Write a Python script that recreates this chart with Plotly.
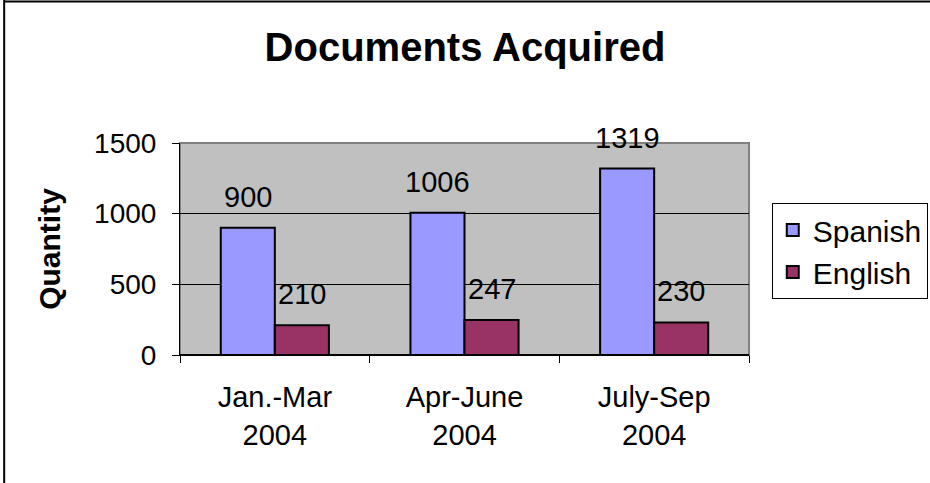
import plotly.graph_objects as go

categories = ["Jan.-Mar<br>2004", "Apr-June<br>2004", "July-Sep<br>2004"]
spanish = [900, 1006, 1319]
english = [210, 247, 230]
y_ticks = [0, 500, 1000, 1500]

FONT = "Liberation Sans, Arial, sans-serif"

fig = go.Figure()
fig.add_trace(go.Bar(name="Spanish", x=categories, y=spanish,
                     marker=dict(color="#9999FF", line=dict(color="black", width=2))))
fig.add_trace(go.Bar(name="English", x=categories, y=english,
                     marker=dict(color="#993366", line=dict(color="black", width=2))))

# data labels above bars
for vals, shift in ((spanish, -27), (english, 27)):
    for c, v in zip(categories, vals):
        fig.add_annotation(x=c, y=v, text=str(v), showarrow=False, xref="x", yref="y",
                           xshift=shift, yshift=31, font=dict(size=29, color="black", family=FONT))

# plot-area border (gray)
fig.add_shape(type="rect", xref="paper", yref="paper", x0=0, x1=1, y0=0, y1=1,
              line=dict(color="#808080", width=2), layer="below")
# outer chart border: top and left only
fig.add_shape(type="line", xref="paper", yref="paper", x0=-0.309, x1=-0.309, y0=-0.62, y1=1.68,
              line=dict(color="black", width=2))
fig.add_shape(type="line", xref="paper", yref="paper", x0=-0.309, x1=1.33, y0=1.668, y1=1.668,
              line=dict(color="black", width=2))

fig.update_layout(
    width=930, height=483,
    margin=dict(l=180, r=181, t=143, b=128, autoexpand=False),
    paper_bgcolor="white", plot_bgcolor="#C0C0C0",
    barmode="group", bargap=0.43, bargroupgap=0,
    font=dict(family=FONT, size=29, color="black"),
    title=dict(text="<b>Documents Acquired</b>", x=0.5, xanchor="center",
               y=1 - 47 / 483, yanchor="middle", font=dict(size=40, family=FONT)),
    legend=dict(x=1.04, y=0.717, xanchor="left", yanchor="top",
                bordercolor="black", borderwidth=1, bgcolor="white",
                font=dict(size=30, family=FONT), itemsizing="constant"),
    showlegend=True,
)
fig.update_xaxes(showline=True, linecolor="black", linewidth=1, ticks="outside",
                 tickson="boundaries", ticklen=7, tickcolor="black",
                 tickfont=dict(size=29), showgrid=False, ticklabelstandoff=16)
fig.update_yaxes(range=[0, 1500], tickvals=y_ticks, showline=True, linecolor="black",
                 linewidth=1, ticks="outside", ticklen=7, tickcolor="black",
                 gridcolor="black", gridwidth=1, zeroline=True, zerolinecolor="black",
                 tickfont=dict(size=28), ticklabelstandoff=10,
                 title=dict(text="<b>Quantity</b>", font=dict(size=30), standoff=24))

fig.write_html("out.html", config={"displayModeBar": False},
               post_script="document.body.style.margin='0';")
